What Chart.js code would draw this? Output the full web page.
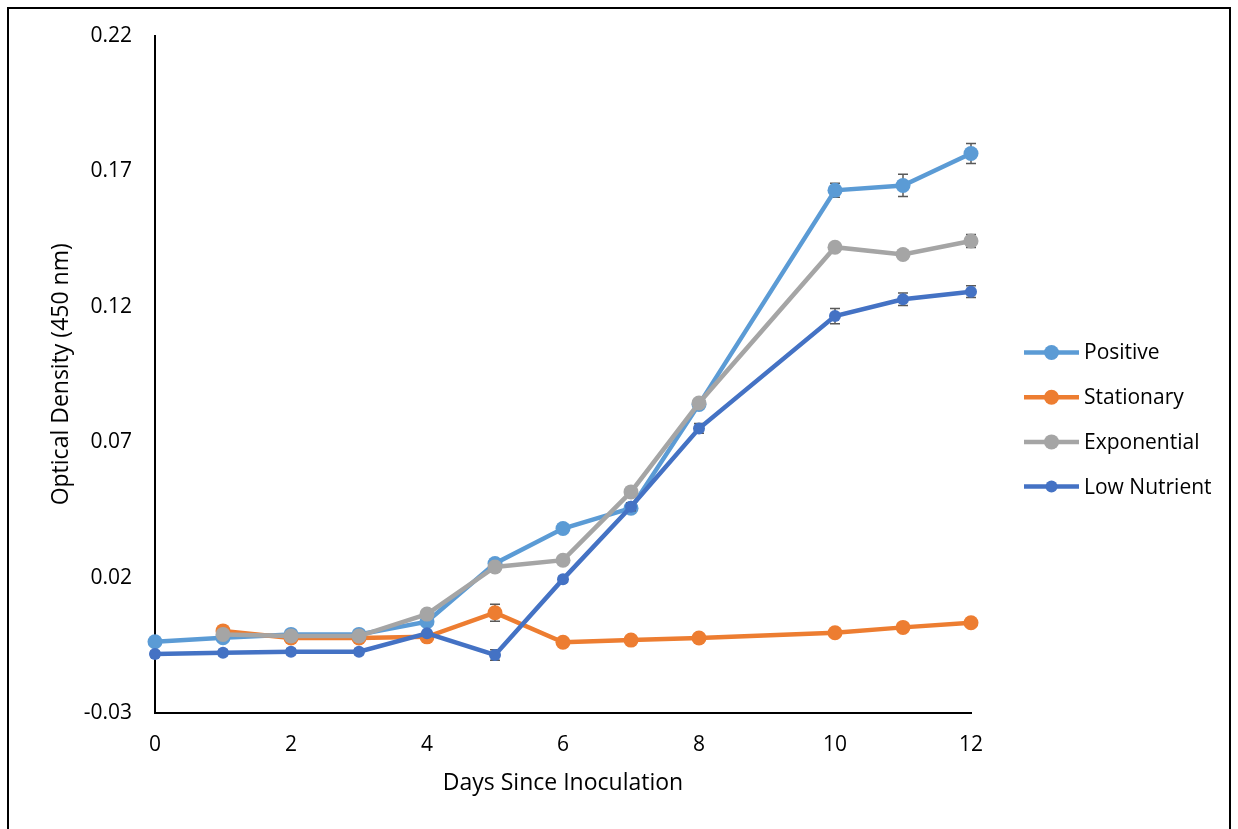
<!DOCTYPE html>
<html>
<head>
<meta charset="utf-8">
<script src="https://cdn.jsdelivr.net/npm/chart.js@4.4.1/dist/chart.umd.min.js"></script>
<style>
html, body { margin: 0; padding: 0; background: #fff; overflow: hidden; }
#frame { position: absolute; left: 7px; top: 7px; width: 1220px; height: 900px; border: 2px solid #000; }
#wrap { position: absolute; left: 0; top: 0; width: 1238px; height: 829px; }
</style>
</head>
<body>
<div id="frame"></div>
<div id="wrap"><canvas id="odChart" width="1238" height="829"></canvas></div>
<script>
/* values */
const days = [0, 1, 2, 3, 4, 5, 6, 7, 8, 10, 11, 12];
const positive    = [-0.0037, -0.0022, -0.0010, -0.0010, 0.0037, 0.0252, 0.0381, 0.0456, 0.0839, 0.1629, 0.1647, 0.1765];
const stationary  = [null, 0.0003, -0.0023, -0.0023, -0.0019, 0.0070, -0.0039, -0.0031, -0.0023, -0.0004, 0.0016, 0.0033];
const exponential = [null, -0.0010, -0.0016, -0.0016, 0.0065, 0.0239, 0.0264, 0.0516, 0.0844, 0.1419, 0.1392, 0.1442];
const lowNutrient = [-0.0082, -0.0078, -0.0074, -0.0074, -0.0006, -0.0086, 0.0194, 0.0461, 0.0750, 0.1165, 0.1227, 0.1255];
// error bar half-lengths (same order as above)
const positiveErr    = [0.001, 0.001, 0.001, 0.001, 0.001, 0.001, 0.001, 0.001, 0.001, 0.0026, 0.0041, 0.0037];
const stationaryErr  = [null, 0.001, 0.001, 0.001, 0.001, 0.0031, 0.001, 0.001, 0.001, 0.001, 0.001, 0.001];
const exponentialErr = [null, 0.001, 0.001, 0.001, 0.001, 0.001, 0.001, 0.001, 0.001, 0.0015, 0.0015, 0.0024];
const lowNutrientErr = [0.001, 0.001, 0.001, 0.001, 0.001, 0.0019, 0.001, 0.0015, 0.0018, 0.0028, 0.0023, 0.0022];
const seriesNames = ["Positive", "Stationary", "Exponential", "Low Nutrient"];
const xTicks = [0, 2, 4, 6, 8, 10, 12];
const yTicks = [-0.03, 0.02, 0.07, 0.12, 0.17, 0.22];

const FONT = "'Open Sans', sans-serif";
const colors = ["#5B9BD5", "#ED7D31", "#A5A5A5", "#4472C4"];
const allValues = [positive, stationary, exponential, lowNutrient];
const allErrors = [positiveErr, stationaryErr, exponentialErr, lowNutrientErr];

function makeDataset(i){
    return {
        label: seriesNames[i],
        data: days.map((d, k) => ({x: d, y: allValues[i][k]})),
        errors: allErrors[i],
        borderColor: colors[i],
        backgroundColor: colors[i],
        pointBackgroundColor: colors[i],
        pointBorderColor: colors[i],
        borderWidth: 4.5,
        pointRadius: i == 3 ? 6 : 7.5,
        pointBorderWidth: 0,
        pointHoverRadius: 7.5,
        tension: 0,
        clip: false,
        order: 4 - i // low nutrient ends up on top
    };
}

// little vertical whiskers under each marker
const errorBars = {
    id: 'errorBars',
    beforeDatasetDraw(chart, args){
        const ds = chart.data.datasets[args.index];
        const yScale = chart.scales.y, xScale = chart.scales.x;
        const ctx = chart.ctx;
        ctx.save();
        ctx.strokeStyle = "#595959";
        ctx.lineWidth = 1.5;
        ds.data.forEach((p, k) => {
            const e = ds.errors[k];
            if (p.y == null || !e) return;
            const px = xScale.getPixelForValue(p.x);
            const top = yScale.getPixelForValue(p.y + e);
            const bot = yScale.getPixelForValue(p.y - e);
            ctx.beginPath();
            ctx.moveTo(px, top); ctx.lineTo(px, bot);
            ctx.moveTo(px - 5, top); ctx.lineTo(px + 5, top);
            ctx.moveTo(px - 5, bot); ctx.lineTo(px + 5, bot);
            ctx.stroke();
        });
        ctx.restore();
    }
};

// excel style legend: short line with a dot, then the name
const sideLegend = {
    id: 'sideLegend',
    afterDraw(chart){
        const ctx = chart.ctx;
        ctx.save();
        ctx.font = "21px " + FONT;
        ctx.textBaseline = "middle";
        ctx.fillStyle = "#000";
        chart.data.datasets.forEach((ds, i) => {
            const y = 352.5 + i * 44.7;
            ctx.strokeStyle = ds.borderColor;
            ctx.lineWidth = 4.5;
            ctx.beginPath();
            ctx.moveTo(1024, y); ctx.lineTo(1079, y);
            ctx.stroke();
            ctx.fillStyle = ds.borderColor;
            ctx.beginPath();
            ctx.arc(1051.5, y, ds.pointRadius, 0, Math.PI * 2);
            ctx.fill();
            ctx.fillStyle = "#000";
            ctx.fillText(ds.label, 1084, y + 1);
        });
        ctx.restore();
    }
};

const ctx = document.getElementById("odChart").getContext("2d");
const odChart = new Chart(ctx, {
    type: "line",
    data: {
        datasets: [0, 1, 2, 3].map(makeDataset)
    },
    options: {
        responsive: false,
        animation: false,
        layout: {padding: {left: 0, top: 35, right: 267, bottom: 0}},
        plugins: {
            legend: {display: false},
            tooltip: {enabled: false}
        },
        scales: {
            x: {
                type: "linear",
                min: 0,
                max: 12,
                afterFit: s => { s.height = 116; },
                afterBuildTicks: s => { s.ticks = xTicks.map(v => ({value: v})); },
                grid: {display: false, drawTicks: false},
                border: {display: true, color: "#000", width: 2},
                ticks: {
                    padding: 19,
                    color: "#000",
                    font: {family: FONT, size: 21}
                },
                title: {
                    display: true,
                    text: "Days Since Inoculation",
                    color: "#000",
                    font: {family: FONT, size: 23},
                    padding: {top: 0, bottom: 32}
                }
            },
            y: {
                min: -0.03,
                max: 0.22,
                afterFit: s => { s.width = 155; },
                afterBuildTicks: s => { s.ticks = yTicks.map(v => ({value: v})); },
                grid: {display: false, drawTicks: false},
                border: {display: true, color: "#000", width: 2},
                ticks: {
                    padding: 23,
                    color: "#000",
                    font: {family: FONT, size: 21},
                    callback: v => v.toFixed(2)
                },
                title: {
                    display: true,
                    text: "Optical Density (450 nm)",
                    color: "#000",
                    font: {family: FONT, size: 23},
                    padding: {top: 48, bottom: 0}
                }
            }
        }
    },
    plugins: [errorBars, sideLegend]
});
</script>
</body>
</html>
